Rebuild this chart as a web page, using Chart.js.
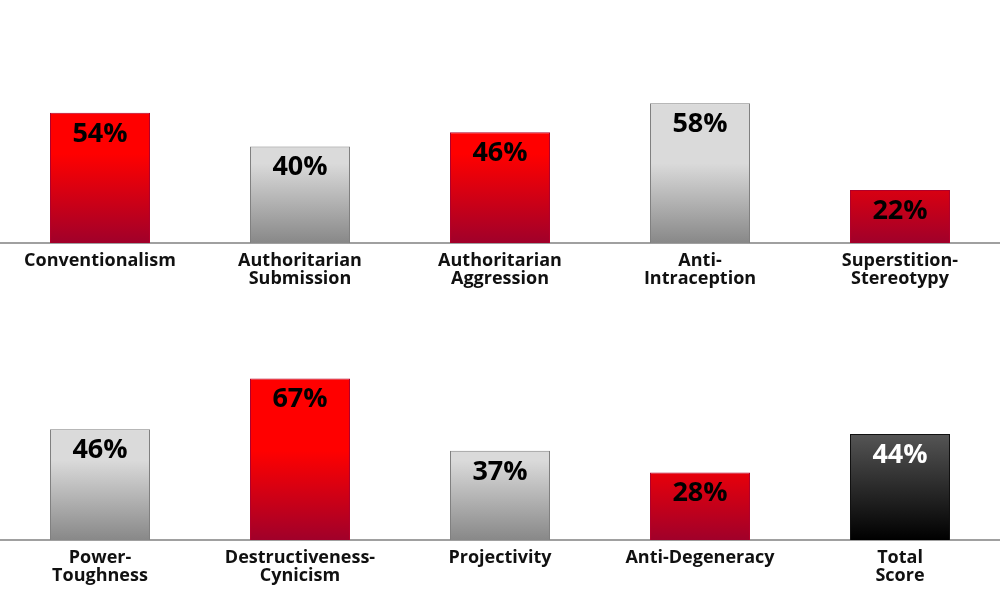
<!DOCTYPE html>
<html>
<head>
<meta charset="utf-8">
<script src="https://cdn.jsdelivr.net/npm/chart.js@4"></script>
<style>
  html, body { margin: 0; padding: 0; background: #fff; }
  #wrap { position: relative; width: 1000px; height: 600px; overflow: hidden; }
  .row { position: absolute; left: 0; width: 1000px; height: 300px; }
  #row1 { top: 0; }
  #row2 { top: 297px; }
</style>
</head>
<body>
<div id="wrap">
  <div class="row" id="row1"><canvas id="top"></canvas></div>
  <div class="row" id="row2"><canvas id="bottom"></canvas></div>
</div>
<script>
// ---- Data ----
const topLabels = [
  "Conventionalism",
  ["Authoritarian", "Submission"],
  ["Authoritarian", "Aggression"],
  ["Anti-", "Intraception"],
  ["Superstition-", "Stereotypy"],
];
const topValues = [54, 40, 46, 58, 22];

const bottomLabels = [
  ["Power-", "Toughness"],
  ["Destructiveness-", "Cynicism"],
  "Projectivity",
  "Anti-Degeneracy",
  ["Total", "Score"],
];
const bottomValues = [46, 67, 37, 28, 44];

// colour kind per bar (style, kept apart from the values)
const topKinds = ["red", "gray", "red", "gray", "red"];
const bottomKinds = ["gray", "red", "gray", "red", "dark"];

const FONT = "'Open Sans', 'DejaVu Sans', sans-serif";

// ---- Gradients (in chart coordinates, so short bars start darker) ----
function makeFill(chart, kind, value) {
  const { ctx, chartArea, scales } = chart;
  if (!chartArea) return "#ccc";
  const y0 = scales.y.getPixelForValue(0);
  let g;
  if (kind === "red") {
    g = ctx.createLinearGradient(0, y0, 0, scales.y.getPixelForValue(37));
    g.addColorStop(0, "#a0002a");
    g.addColorStop(1, "#ff0000");
  } else if (kind === "gray") {
    g = ctx.createLinearGradient(0, y0, 0, scales.y.getPixelForValue(33));
    g.addColorStop(0, "#888888");
    g.addColorStop(1, "#dadada");
  } else {
    g = ctx.createLinearGradient(0, y0, 0, scales.y.getPixelForValue(value));
    g.addColorStop(0, "#000000");
    g.addColorStop(1, "#555555");
  }
  return g;
}

const BORDERS = { red: "#b0002a", gray: "#808080", dark: "#111111" };

// ---- value labels inside the bars ----
const valueLabels = {
  id: "valueLabels",
  afterDatasetsDraw(chart, args, opts) {
    const { ctx } = chart;
    const meta = chart.getDatasetMeta(0);
    const vals = chart.data.datasets[0].data;
    ctx.save();
    ctx.font = `bold 27px ${FONT}`;
    ctx.textAlign = "center";
    ctx.textBaseline = "middle";
    meta.data.forEach((bar, i) => {
      ctx.fillStyle = opts.kinds[i] === "dark" ? "#ffffff" : "#000000";
      ctx.fillText(`${vals[i]}%`, bar.x, bar.y + 21);
    });
    ctx.restore();
  },
};

function buildRow(canvasId, labels, values, kinds) {
  return new Chart(document.getElementById(canvasId), {
    type: "bar",
    data: {
      labels: labels,
      datasets: [{
        data: values,
        backgroundColor: c => makeFill(c.chart, kinds[c.dataIndex], values[c.dataIndex]),
        borderColor: kinds.map(k => BORDERS[k]),
        borderWidth: 1,
        categoryPercentage: 1,
        barPercentage: 0.5,
      }],
    },
    options: {
      responsive: true,
      maintainAspectRatio: false,
      animation: false,
      layout: { padding: { top: 2, left: 0, right: 0, bottom: 0 } },
      plugins: {
        legend: { display: false },
        tooltip: { enabled: false },
        valueLabels: { kinds: kinds },
      },
      scales: {
        x: {
          grid: { display: false, drawTicks: false },
          border: { display: true, color: "#a0a0a0", width: 2 },
          ticks: {
            color: "#111",
            padding: 9,
            maxRotation: 0,
            autoSkip: false,
            font: { family: FONT, size: 18, weight: "bold", lineHeight: 1.0 },
          },
          afterFit: s => { s.height = 57; },
        },
        y: {
          display: false,
          min: 0,
          max: 100,
        },
      },
    },
    plugins: [valueLabels],
  });
}

buildRow("top", topLabels, topValues, topKinds);
buildRow("bottom", bottomLabels, bottomValues, bottomKinds);
</script>
</body>
</html>
